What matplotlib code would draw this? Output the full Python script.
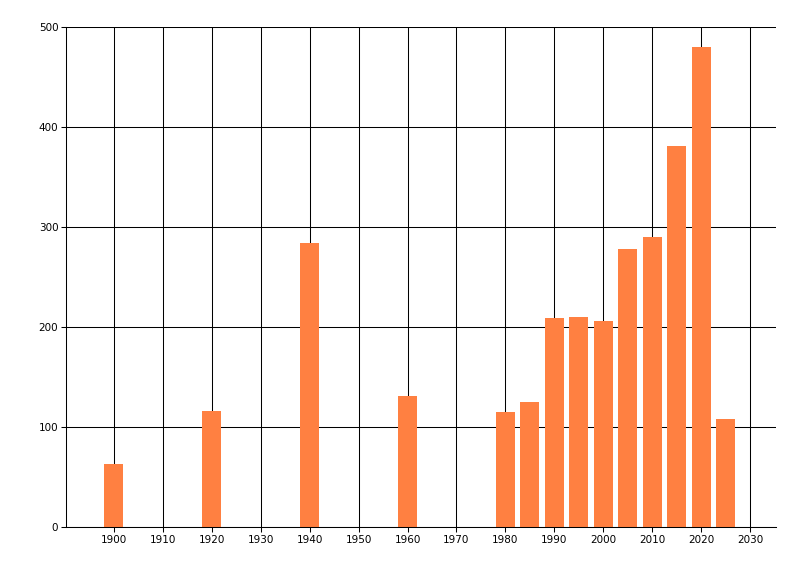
import matplotlib
matplotlib.use('Agg')
import matplotlib.pyplot as plt

# dados
anos = [1900, 1920, 1940, 1960, 1980, 1985, 1990, 1995, 2000, 2005, 2010, 2015, 2020, 2025]
valores = [63, 116, 284, 131, 115, 125, 209, 210, 206, 278, 290, 381, 480, 108]
ticks_x = list(range(1900, 2031, 10))
ticks_y = [0, 100, 200, 300, 400, 500]

fig = plt.figure(figsize=(8, 5.76), dpi=100)
ax = fig.add_axes([66/800, 49/576, 710/800, 500/576])

ax.bar(anos, valores, width=3.9, color='#FF8041', zorder=3)

ax.set_xlim(1890.2, 2035.3)
ax.set_ylim(0, 500)
ax.set_xticks(ticks_x)
ax.set_yticks(ticks_y)
ax.tick_params(labelsize=7.5, length=3.5, width=0.75, color='black', pad=2)

ax.grid(True, color='black', linewidth=0.75, zorder=1)
ax.set_axisbelow(True)
for s in ['top', 'right']:
    ax.spines[s].set_visible(False)
for s in ['left', 'bottom']:
    ax.spines[s].set_linewidth(0.75)
    ax.spines[s].set_zorder(4)

plt.savefig('out.png', dpi=100)
